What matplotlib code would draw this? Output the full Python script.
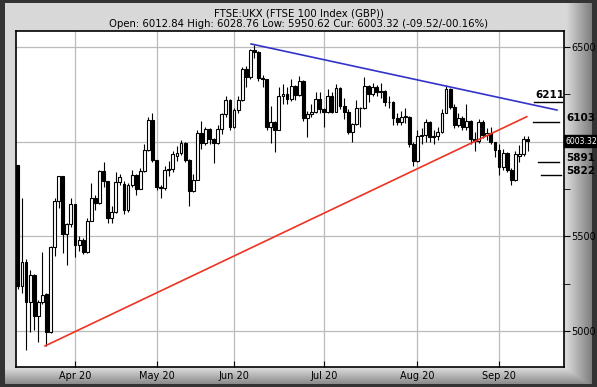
import numpy as np
import matplotlib.pyplot as plt

# FTSE 100 daily candles, 12 Mar 2020 - 10 Sep 2020
opens = [5877, 5237, 5366, 5151, 5294, 5080, 5151, 5194, 4993, 5446, 5688, 5816, 5510, 5563,
         5672, 5454, 5480, 5416, 5582, 5704, 5678, 5843, 5791, 5597, 5628, 5787, 5775, 5641,
         5770, 5826, 5752, 5847, 5958, 6115, 5901, 5763, 5753, 5849, 5853, 5925, 5939, 5994,
         5904, 5741, 5800, 6048, 5995, 6067, 6015, 5993, 6068, 6145, 6218, 6077, 6166, 6220,
         6382, 6341, 6484, 6473, 6335, 6329, 6077, 6105, 6064, 6243, 6253, 6224, 6293, 6245,
         6320, 6124, 6147, 6159, 6225, 6170, 6157, 6240, 6158, 6286, 6190, 6156, 6050, 6095,
         6176, 6180, 6293, 6250, 6290, 6261, 6269, 6207, 6211, 6123, 6104, 6129, 6131, 5990,
         5898, 6032, 6036, 6104, 6026, 6032, 6050, 6154, 6280, 6185, 6090, 6127, 6076, 6111,
         6013, 6001, 6104, 6037, 6045, 6000, 5957, 5865, 5938, 5850, 5797, 5925, 5935, 6013]
highs = [5877, 5700, 5380, 5320, 5300, 5165, 5415, 5200, 5450, 5700, 5820, 5816, 5570, 5700,
         5672, 5500, 5490, 5595, 5780, 5720, 5850, 5894, 5791, 5660, 5838, 5830, 5790, 5780,
         5850, 5830, 5860, 5990, 6130, 6153, 5905, 5770, 5870, 5900, 5950, 5975, 6010, 6000,
         5910, 5830, 6060, 6110, 6080, 6070, 6020, 6090, 6150, 6240, 6225, 6180, 6240, 6395,
         6400, 6490, 6511, 6480, 6350, 6330, 6190, 6110, 6290, 6305, 6290, 6330, 6300, 6345,
         6325, 6160, 6200, 6260, 6260, 6180, 6280, 6260, 6305, 6290, 6230, 6175, 6100, 6220,
         6185, 6340, 6300, 6310, 6300, 6312, 6275, 6240, 6215, 6150, 6160, 6180, 6135, 6000,
         6060, 6070, 6120, 6110, 6060, 6080, 6170, 6299, 6285, 6200, 6150, 6135, 6200, 6115,
         6050, 6120, 6115, 6070, 6080, 6000, 5990, 5960, 5945, 5860, 5950, 5985, 6030, 6029]
lows = [5220, 5200, 4900, 4996, 5005, 4940, 5140, 4921, 4990, 5396, 5650, 5414, 5348, 5550,
        5393, 5420, 5405, 5410, 5580, 5640, 5670, 5760, 5572, 5572, 5625, 5770, 5620, 5630,
        5760, 5720, 5750, 5840, 5950, 5890, 5745, 5700, 5745, 5820, 5840, 5900, 5930, 5890,
        5660, 5735, 5795, 5960, 5985, 5990, 5885, 5990, 6040, 6130, 6060, 6070, 6150, 6215,
        6290, 6330, 6440, 6320, 6290, 6060, 5991, 5947, 6060, 6200, 6200, 6215, 6220, 6240,
        6110, 6026, 6130, 6150, 6150, 6080, 6150, 6150, 6155, 6170, 6120, 6040, 6000, 6090,
        6080, 6175, 6210, 6240, 6240, 6230, 6190, 6180, 6090, 6090, 6090, 6100, 5970, 5871,
        5890, 5990, 6000, 6000, 5990, 6010, 6045, 6150, 6170, 6070, 6080, 6060, 6060, 5990,
        5952, 5995, 6020, 6010, 5990, 5920, 5824, 5850, 5840, 5771, 5790, 5890, 5925, 5951]
closes = [5237, 5366, 5151, 5294, 5080, 5151, 5190, 4993, 5446, 5688, 5816, 5510, 5563, 5672,
          5454, 5480, 5416, 5582, 5704, 5678, 5843, 5791, 5597, 5628, 5787, 5812, 5641, 5770,
          5826, 5752, 5847, 5958, 6115, 5901, 5763, 5753, 5849, 5853, 5935, 5939, 5994, 5904,
          5741, 5800, 6048, 5995, 6067, 6015, 5993, 6068, 6145, 6218, 6077, 6166, 6220, 6382,
          6341, 6484, 6473, 6335, 6329, 6077, 6105, 6064, 6243, 6253, 6224, 6293, 6245, 6320,
          6124, 6147, 6159, 6225, 6170, 6157, 6240, 6158, 6286, 6190, 6156, 6050, 6095, 6176,
          6180, 6293, 6250, 6290, 6261, 6269, 6207, 6211, 6123, 6104, 6129, 6131, 5990, 5898,
          6032, 6036, 6104, 6026, 6032, 6050, 6154, 6280, 6185, 6090, 6127, 6076, 6111, 6013,
          6001, 6104, 6037, 6045, 6000, 5957, 5865, 5938, 5850, 5797, 5937, 5935, 6013, 6003.32]

# month ticks (trading-day index of first session)
month_idx = [14, 34, 53, 75, 98, 118]
month_lbl = ['Apr 20', 'May 20', 'Jun 20', 'Jul 20', 'Aug 20', 'Sep 20']

# trend lines (index, price)
blue_x, blue_y = [57.2, 132.2], [6516, 6167]
red_x, red_y = [6.65, 124.8], [4921, 6132]

# target levels
levels = [6211, 6103, 5891, 5822]
level_x = [[126.6, 133.4], [126.3, 132.8], [127.5, 132.6], [128.2, 133.2]]
current = 6003.32

W, H = 597, 387
fig = plt.figure(figsize=(W / 100, H / 100), dpi=100)

# bevelled grey frame
bg = fig.add_axes([0, 0, 1, 1])
img = np.full((H, W), 0.2)
xx, yy = np.meshgrid(np.arange(W), np.arange(H))
panel = (xx >= 5) & (xx <= 591) & (yy >= 3) & (yy <= 383)
val = np.full((H, W), 0.85)
val = np.minimum(val, np.where(xx > 566, 0.85 - (xx - 566) / 25 * 0.35, 0.85))
val = np.minimum(val, np.where(yy > 368, 0.85 - (yy - 368) / 15 * 0.3, 0.85))
img[panel] = val[panel]
bg.imshow(np.dstack([img] * 3), aspect='auto', interpolation='bilinear')
bg.axis('off')

ax = fig.add_axes([16 / W, 1 - 367 / H, 548 / W, 336 / H])
ax.set_facecolor('white')
x = np.arange(len(closes))
o = np.array(opens, float)
c = np.array(closes, float)
ax.vlines(x, lows, highs, color='black', lw=0.8, zorder=3)
up = c >= o
body_h = np.maximum(np.abs(c - o), 4)
ax.bar(x[up], body_h[up], bottom=np.minimum(o, c)[up], width=0.7,
       color='white', edgecolor='black', lw=0.8, zorder=4)
ax.bar(x[~up], body_h[~up], bottom=np.minimum(o, c)[~up], width=0.7,
       color='black', edgecolor='black', lw=0.8, zorder=4)

ax.plot(blue_x, blue_y, color='#3333cc', lw=1.2, zorder=5)
ax.plot(red_x, red_y, color='#ee3322', lw=1.2, zorder=5)

for lv, (x0, x1) in zip(levels, level_x):
    ax.plot([x0, x1], [lv, lv], color='black', lw=1.0, zorder=5)

ax.set_xlim(-0.47, 133.93)
ax.set_ylim(4809.8, 6584.5)
ax.set_xticks(month_idx)
ax.set_xticklabels(month_lbl)
ax.set_yticks([5000, 5500, 6000, 6500])
ax.set_yticks([5250, 5750, 6250], minor=True)
ax.grid(True, which='major', color='#bbbbbb', lw=0.9)
ax.set_axisbelow(True)
ax.tick_params(axis='x', direction='in', length=4, labelsize=7, pad=3, colors='black')
ax.tick_params(axis='y', which='both', direction='out', length=4, labelsize=7,
               left=False, right=True, labelleft=False, labelright=True, pad=1)
for sp in ax.spines.values():
    sp.set_linewidth(1.2)
for lbl in ax.get_yticklabels():
    if lbl.get_text() == '6000':
        lbl.set_visible(False)

# right side level labels
ax.text(127.0, 6211 + 10, '6211', fontsize=7.5, fontweight='bold', va='bottom', ha='left',
        zorder=6, clip_on=False)
for lv, txt in [(6103, '6103'), (5891, '5891'), (5822, '5822')]:
    fig.text(566 / W, 1 - (47 + (6500 - lv) / 5.282 - 4) / H, txt, fontsize=7.5,
             fontweight='bold', va='center', ha='left')
fig.text(565.5 / W, 1 - (47 + (6500 - current) / 5.282) / H, '6003.32', fontsize=5.6,
         color='white', va='center', ha='left',
         bbox=dict(boxstyle='square,pad=0.2', fc='black', ec='black'))

fig.text(0.5, 1 - 13 / H, 'FTSE:UKX (FTSE 100 Index (GBP))', fontsize=7.3, ha='center', va='center')
fig.text(0.5, 1 - 24 / H, 'Open: 6012.84 High: 6028.76 Low: 5950.62 Cur: 6003.32 (-09.52/-00.16%)',
         fontsize=7.3, ha='center', va='center')

fig.savefig('out.png', dpi=100)
